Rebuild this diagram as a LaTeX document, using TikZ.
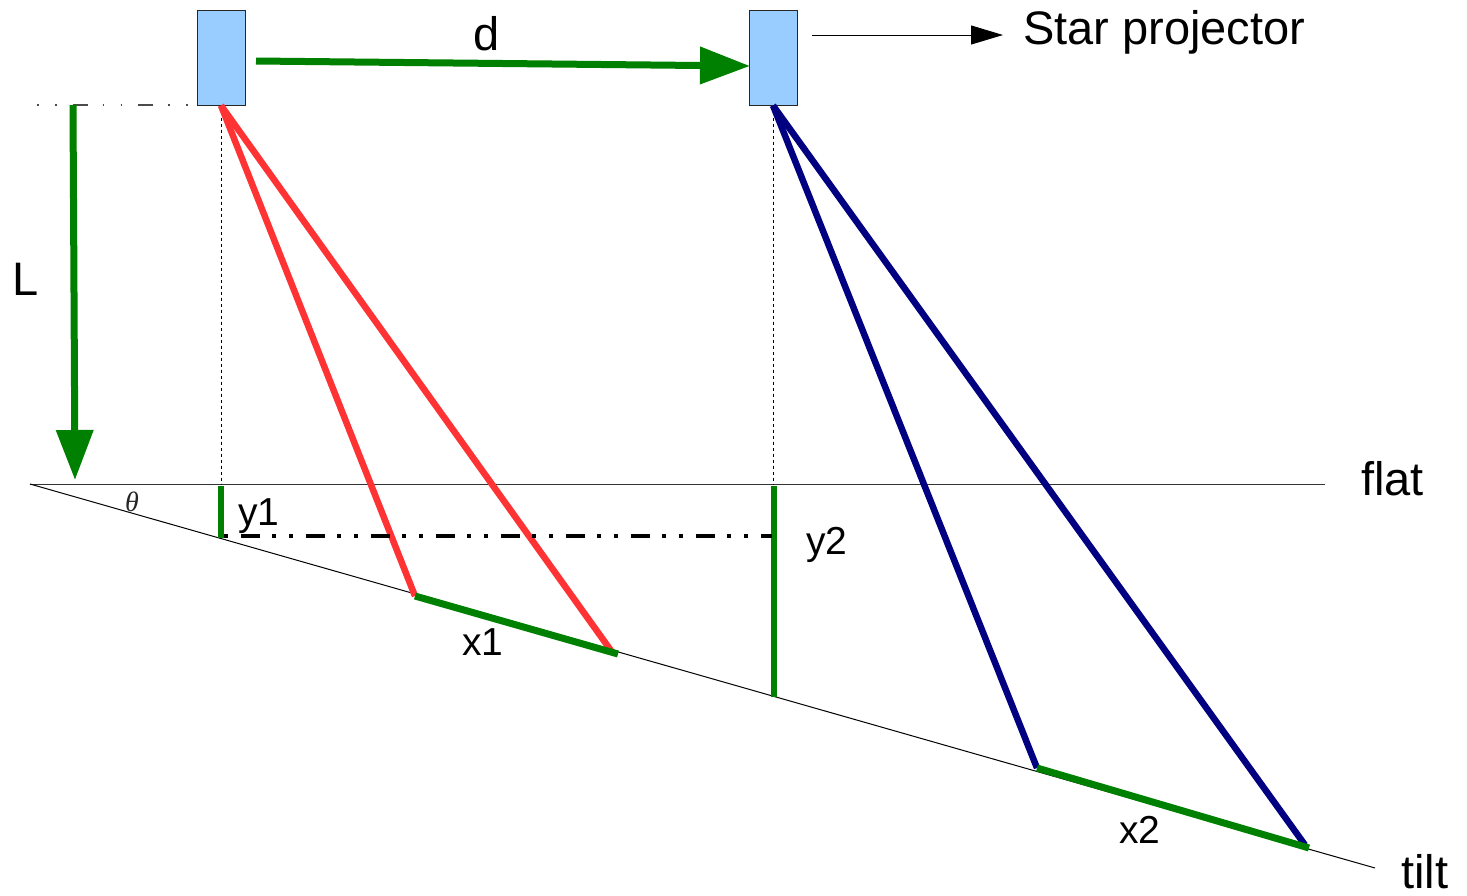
\documentclass[tikz,border=0pt]{standalone}
\usepackage{fontspec}
\setmainfont{Liberation Sans}
\newfontfamily\thetafont{Liberation Serif}
\usetikzlibrary{arrows.meta}
\definecolor{dgreen}{RGB}{0,128,0}
\definecolor{rayred}{RGB}{255,51,51}
\definecolor{raynavy}{RGB}{0,0,128}
\definecolor{projblue}{RGB}{153,204,255}
\begin{document}
\begin{tikzpicture}[x=1pt,y=-1pt,
  proj/.style={draw=black!85, fill=projblue, line width=1pt, minimum width=48pt, minimum height=95pt, inner sep=0pt},
  redray/.style={draw=rayred, line width=6.5pt},
  navyray/.style={draw=raynavy, line width=6.5pt},
  measure/.style={draw=dgreen, line width=7pt},
  bar/.style={draw=dgreen, line width=5.5pt},
  thinline/.style={draw=black, line width=1pt},
  guide/.style={draw=black, line width=0.8pt, dash pattern=on 3pt off 3pt},
  biglbl/.style={anchor=base west, inner sep=0pt, font=\fontsize{47}{47}\selectfont},
  smalllbl/.style={anchor=base west, inner sep=0pt, font=\fontsize{39}{39}\selectfont},
  bigarrow/.style={draw=dgreen, fill=dgreen, line width=7pt, -{Triangle[length=50pt,width=36pt]}}
]
\useasboundingbox (0,0) rectangle (1467,895);

% key points
\coordinate (O) at (30,484);
\coordinate (F) at (1325,484);
\coordinate (T) at (1375,868);
\coordinate (a1) at (415,596);
\coordinate (b1) at (612,652);
\coordinate (c1) at (618,654);
\coordinate (a2) at (1037,768);
\coordinate (b2) at (1305,845);
\coordinate (c2) at (1309,848);
\coordinate (ds) at (256,61);
\coordinate (de) at (750,66);
\coordinate (ls) at (73,105);
\coordinate (le) at (75,480);
\coordinate (dl) at (37,105);
\coordinate (sa) at (812,35);
\coordinate (sb) at (1003,35);
\coordinate (y1t) at (221,486);
\coordinate (y1b) at (221,538);
\coordinate (y2t) at (774,486);
\coordinate (y2b) at (774,697);
\coordinate (h1) at (224,536);
\coordinate (h2) at (772,536);

% reference line top-left
\draw[draw=black!70, line width=1.2pt, dash pattern=on 1.5pt off 16.5pt on 1.5pt off 16pt on 15pt off 15pt] (dl) -- (221,105);

% projectors
\node[proj] (p1) at (221,57.5) {};
\node[proj] (p2) at (773,57.5) {};

% flat and tilt
\draw[draw=black!80, line width=1pt] (O) -- (F);
\draw[thinline] (O) -- (T);

% vertical guides
\draw[guide] (p1.south) -- (p1.south |- O);
\draw[guide] (p2.south) -- (p2.south |- O);

% rays
\draw[redray] (p1.south) -- (a1);
\draw[redray] (p1.south) -- (b1);
\draw[navyray] (p2.south) -- (a2);
\draw[navyray] (p2.south) -- (b2);

% measures
\draw[measure] (a1) -- (c1);
\draw[measure] (a2) -- (c2);
\draw[bar] (y1t) -- (y1b);
\draw[bar] (y2t) -- (y2b);

% dash-dot horizontal
\draw[draw=black, line width=3.5pt, dash pattern=on 4pt off 13pt on 19pt off 12pt on 4pt off 13pt] (h1) -- (h2);

% arrows
\draw[bigarrow] (ds) -- (de);
\draw[bigarrow] (ls) -- (le);
\draw[draw=black, fill=black, line width=1pt, -{Triangle[length=32pt,width=19pt]}] (sa) -- (sb);

% labels
\node[biglbl] (ld) at (473,50) {d};
\node[biglbl] (lstar) at (1023,44) {Star projector};
\node[biglbl] (lL) at (12,295) {L};
\node[biglbl] (lflat) at (1361,495) {flat};
\node[biglbl] (ltilt) at (1401,888) {tilt};
\node[smalllbl] (lx1) at (462,655) {x1};
\node[smalllbl] (lx2) at (1119,843) {x2};
\node[smalllbl] (ly1) at (238,525) {y1};
\node[smalllbl] (ly2) at (806,554) {y2};
\node[inner sep=0pt, font=\thetafont\itshape\fontsize{28}{28}\selectfont, text=black!85] (lth) at (132,502) {θ};
\end{tikzpicture}
\end{document}
